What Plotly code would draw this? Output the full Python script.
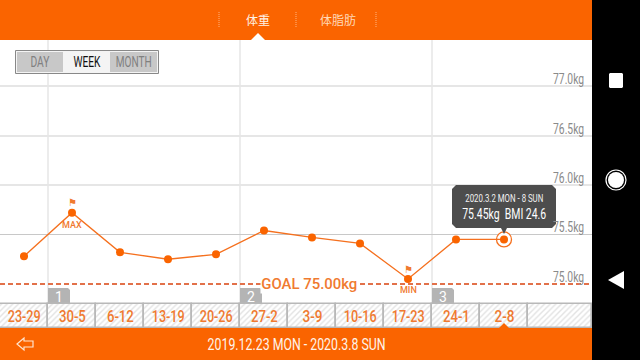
import json
import plotly.graph_objects as go

weeks = ["23-29","30-5","6-12","13-19","20-26","27-2","3-9","10-16","17-23","24-1","2-8"]
weight = [75.28,75.72,75.32,75.25,75.30,75.54,75.47,75.41,75.05,75.45,75.45]
y_ticks = [77.0,76.5,76.0,75.5,75.0]
y_labels = ["77.0kg","76.5kg","76.0kg","75.5kg","75.0kg"]
goal = 75.0
month_marks = [0.5,4.5,8.5]
month_labels = ["1","2","3"]

ORANGE = "#fa6400"
LINE = "#f5701e"
FONT = "Roboto, sans-serif"
CJK = "Noto Sans CJK SC, sans-serif"
X0, X1 = -0.5, 12.8333
Y_TOP, Y_BOTTOM = 77.869, 74.232

def px(x): return x/640
def py(y): return 1-y/360

shapes, ann = [], []
def rect(x0,y0,x1,y1,fill,layer="above",line=None,lw=0):
    shapes.append(dict(type="rect",xref="paper",yref="paper",x0=px(x0),x1=px(x1),y0=py(y0),y1=py(y1),
                       fillcolor=fill,layer=layer,line=dict(color=line or fill,width=lw)))
def path(points,fill,layer="above",line=None,lw=0,close=True):
    d="M"+" L".join(f"{px(x):.5f},{py(y):.5f}" for x,y in points)+(" Z" if close else "")
    shapes.append(dict(type="path",xref="paper",yref="paper",path=d,fillcolor=fill,layer=layer,
                       line=dict(color=line or "rgba(0,0,0,0)",width=lw)))
def label(x,y,t,size,color,family=FONT,weight_=400,**kw):
    ann.append(dict(xref="paper",yref="paper",x=px(x),y=py(y),text=t,showarrow=False,xanchor="center",yanchor="middle",
                    font=dict(size=size,color=color,family=family,weight=weight_),borderpad=0,**kw))

fig = go.Figure()

# hatched strip of week cells
fig.add_trace(go.Bar(x=list(range(len(weeks)))+[11.167],y=[0.242]*12,base=74.556,width=[1]*11+[1.333],
    marker=dict(color="white",pattern=dict(shape="/",fgcolor="#c6c6c6",bgcolor="white",size=4,solidity=0.35),
                line=dict(color="#b8b8b8",width=1.6)),hoverinfo="skip",showlegend=False))

fig.add_trace(go.Scatter(x=[len(weeks)-1],y=[weight[-1]],mode="markers",hoverinfo="skip",showlegend=False,
    marker=dict(size=15,color="white",line=dict(color=LINE,width=1.3))))
fig.add_trace(go.Scatter(x=list(range(len(weeks))),y=weight,mode="lines+markers",hoverinfo="skip",showlegend=False,
    line=dict(color=LINE,width=1.3),marker=dict(size=8,color=ORANGE)))

for m in month_marks:
    shapes.append(dict(type="line",xref="x",yref="paper",x0=m,x1=m,y0=py(304),y1=py(40),layer="below",
                       line=dict(color="#e6e6e6",width=1.5)))
shapes.append(dict(type="line",xref="paper",yref="y",x0=0,x1=px(592),y0=75.5,y1=75.5,layer="below",
                   line=dict(color="#c8c8c8",width=1.2)))
shapes.append(dict(type="line",xref="paper",yref="y",x0=0,x1=px(592),y0=goal,y1=goal,layer="below",
                   line=dict(color="#e2714a",width=2,dash="5px,3px")))

for m,t in zip(month_marks,month_labels):
    xp=(m-X0)/(X1-X0)*640
    path([(xp,304),(xp,288),(xp+20,288),(xp+22,290),(xp+22,304)],"#b4b4b4","below")
    label(xp+11,297,t,14,"white")

for v,t in zip(y_ticks,y_labels):
    ann.append(dict(xref="paper",yref="y",x=px(568.5),y=v,yshift=7,text=t,showarrow=False,xanchor="center",yanchor="middle",
                    font=dict(size=15,color="#8a8a8a",family=FONT)))

for i,t in enumerate(weeks):
    ann.append(dict(xref="x",yref="paper",x=i,y=py(316),text=t,showarrow=False,xanchor="center",yanchor="middle",
                    font=dict(size=17,color="#f07a30",family=FONT,weight=500)))

imax=weight.index(max(weight)); imin=weight.index(min(weight))
for i,word,yt in [(imax,"MAX",-12),(imin,"MIN",-11)]:
    ann.append(dict(xref="x",yref="y",x=i,y=weight[i],yshift=yt,text=word,showarrow=False,
                    font=dict(size=9,color="#f07a30",family=FONT,weight=500)))
    ann.append(dict(xref="x",yref="y",x=i,y=weight[i],yshift=10,text="⚑",showarrow=False,
                    font=dict(size=10,color="#f07a30",family="DejaVu Sans")))

label(309.5,284,"GOAL 75.00kg",15,"#f07a30",weight_=500,bgcolor="white")

rect(15.5,50.5,158.5,73.5,"#f4f4f4","above","#888888",1)
rect(17,52,63,72,"#c8c8c8")
rect(110,52,157,72,"#c8c8c8")
label(40,62,"DAY",15,"#808080")
label(87,62,"WEEK",15,"#111111")
label(134,62,"MONTH",15,"#808080")

rect(0,0,592,40,ORANGE)
for x in (219,296,376):
    shapes.append(dict(type="line",xref="paper",yref="paper",x0=px(x),x1=px(x),y0=py(12),y1=py(28),layer="above",
                       line=dict(color="#ffb47f",width=1,dash="1px,1px")))
path([(251,40),(258,33),(265,40)],"white")
label(258,19,"体重",12,"#fff2e6",CJK)
label(338,19,"体脂肪",12,"#ffd9b8",CJK)

rect(0,328,592,360,ORANGE)
path([(499,328),(504,323),(509,328)],ORANGE)
label(296,344,"2019.12.23 MON - 2020.3.8 SUN",17,"#fff4ea")
path([(17,344),(24,338),(24,341),(33,341),(33,347),(24,347),(24,350)],"rgba(0,0,0,0)","above","#ffe5cf",1.2)

path([(456,185),(552,185),(556,189),(556,224),(552,228),(507,228),(504,234),(501,228),(456,228),(452,224),(452,189)],"#4d4d4d")
label(504,198,"2020.3.2 MON - 8 SUN",10.5,"#f2f2f2")
label(504,214,"75.45kg  BMI 24.6",15,"#ffffff")

rect(592,0,640,360,"#000000")
path([(610,73),(622,73),(623,74),(623,87),(622,88),(610,88),(609,87),(609,74)],"white")
shapes.append(dict(type="circle",xref="paper",yref="paper",x0=px(606),x1=px(626),y0=py(190),y1=py(170),
                   line=dict(color="white",width=1.2),fillcolor="rgba(0,0,0,0)",layer="above"))
shapes.append(dict(type="circle",xref="paper",yref="paper",x0=px(608),x1=px(624),y0=py(188),y1=py(172),
                   line=dict(width=0),fillcolor="white",layer="above"))
path([(608,280),(624,271),(624,289)],"white")

fig.update_layout(width=640,height=360,margin=dict(l=0,r=0,t=0,b=0),paper_bgcolor="white",plot_bgcolor="white",
    showlegend=False,shapes=shapes,annotations=ann,bargap=0,
    xaxis=dict(range=[X0,X1],showgrid=False,showticklabels=False,zeroline=False,ticks=""),
    yaxis=dict(range=[Y_BOTTOM,Y_TOP],tickvals=y_ticks[:3],showticklabels=False,ticks="",zeroline=False,
               showgrid=True,gridcolor="#e6e6e6",gridwidth=1.5))

# the reference uses a condensed face: narrow the real text horizontally to the reference widths
target = {"DAY":19,"WEEK":27,"MONTH":36,"2019.12.23 MON - 2020.3.8 SUN":178,"2020.3.2 MON - 8 SUN":78,
          "75.45kg  BMI 24.6":84,"GOAL 75.00kg":96,"23-29":33,"30-5":27,"6-12":27,"13-19":33,"20-26":33,
          "27-2":27,"3-9":20,"10-16":33,"17-23":33,"24-1":27,"2-8":20,
          "77.0kg":31,"76.5kg":31,"76.0kg":31,"75.5kg":31,"75.0kg":31}
js = "document.body.style.margin='0';var T=" + json.dumps(target) + ";" + """
document.querySelectorAll('g.annotation text').forEach(function(t){
  var w=T[t.textContent]; if(w){t.setAttribute('textLength',w);t.setAttribute('lengthAdjust','spacingAndGlyphs');}
});
"""
fig.write_html("out.html",config=dict(displayModeBar=False),post_script=js)
